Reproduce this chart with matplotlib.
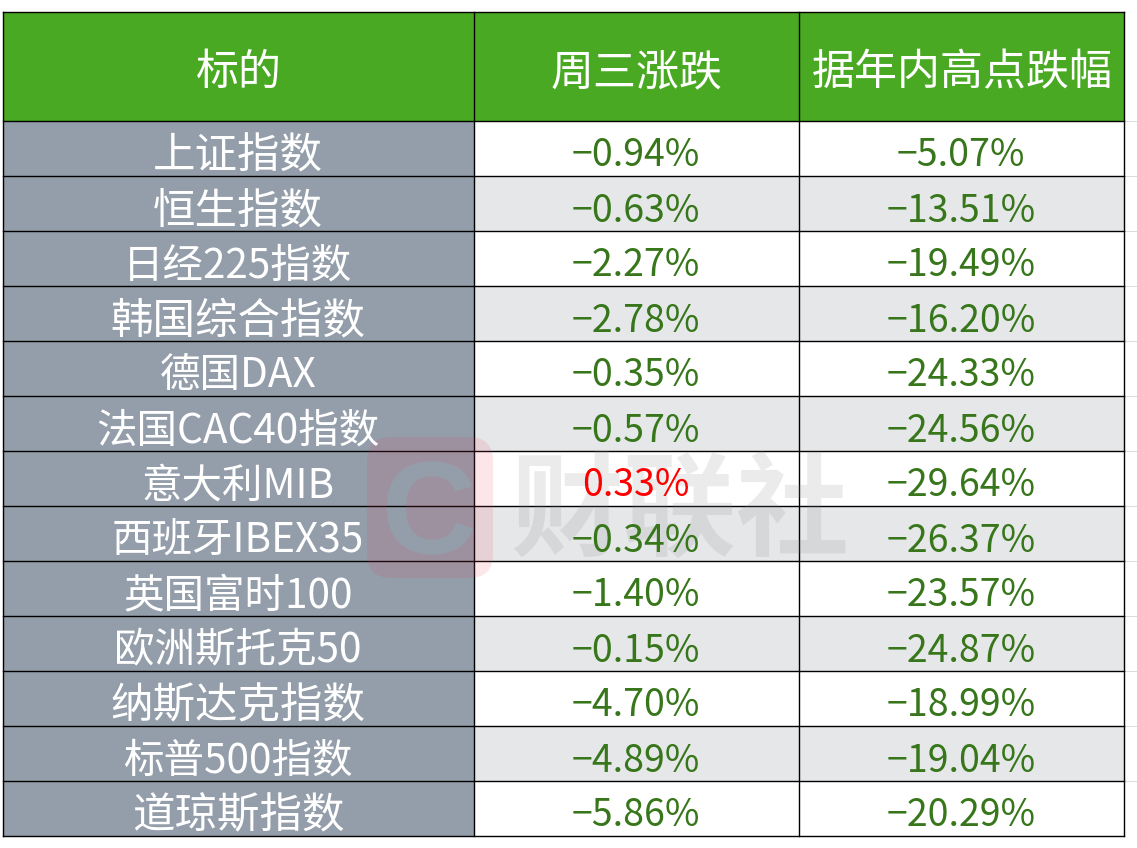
import matplotlib
matplotlib.use('Agg')
import matplotlib.pyplot as plt
from matplotlib.patches import FancyBboxPatch, PathPatch, Rectangle
from matplotlib.path import Path
from matplotlib.textpath import TextPath
from matplotlib.font_manager import FontProperties
from matplotlib.transforms import Affine2D

plt.rcParams['font.family'] = ['Noto Sans CJK SC', 'DejaVu Sans']

# данные таблицы
headers = ['标的', '周三涨跌', '据年内高点跌幅']
names = ['上证指数', '恒生指数', '日经225指数', '韩国综合指数', '德国DAX', '法国CAC40指数',
         '意大利MIB', '西班牙IBEX35', '英国富时100', '欧洲斯托克50', '纳斯达克指数',
         '标普500指数', '道琼斯指数']
wed_change = ['−0.94%', '−0.63%', '−2.27%', '−2.78%', '−0.35%', '−0.57%', '0.33%',
              '−0.34%', '−1.40%', '−0.15%', '−4.70%', '−4.89%', '−5.86%']
from_high = ['−5.07%', '−13.51%', '−19.49%', '−16.20%', '−24.33%', '−24.56%', '−29.64%',
             '−26.37%', '−23.57%', '−24.87%', '−18.99%', '−19.04%', '−20.29%']

GREEN = '#4aa923'
SLATE = '#949eaa'
STRIPE = '#e6e7e9'
TEXT_GREEN = '#37761a'

col_x = [3.5, 474.5, 799.5, 1124.5]
top = 12.5
header_bottom = 121.5
row_h = 55.0
px = 72 / 100  # px -> pt при dpi=100

fig = plt.figure(figsize=(11.37, 8.48), dpi=100)
ax = fig.add_axes([0, 0, 1, 1])
ax.set_xlim(0, 1137)
ax.set_ylim(848, 0)
ax.axis('off')

# заливка шапки и строк
for i in range(3):
    ax.add_patch(Rectangle((col_x[i], top), col_x[i + 1] - col_x[i], header_bottom - top,
                           fc=GREEN, ec='none', zorder=1))
    cx = (col_x[i] + col_x[i + 1]) / 2
    ax.text(cx, (top + header_bottom) / 2 + 6, headers[i], color='white', fontsize=43 * px,
            ha='center', va='center', zorder=5)

for r, name in enumerate(names):
    y = header_bottom + r * row_h
    ax.add_patch(Rectangle((col_x[0], y), col_x[1] - col_x[0], row_h, fc=SLATE, ec='none', zorder=1))
    if r % 2 == 1:
        ax.add_patch(Rectangle((col_x[1], y), col_x[3] - col_x[1], row_h, fc=STRIPE, ec='none', zorder=1))
    ymid = y + row_h / 2 + 7
    # латиница и цифры в оригинале узкие, поэтому такие строки чуть мельче
    name_size = 40.5 if any(ch.isascii() for ch in name) else 42.5
    ax.text((col_x[0] + col_x[1]) / 2 - 1, ymid, name, color='white', fontsize=name_size * px,
            ha='center', va='center', zorder=5)
    wc = wed_change[r]
    ax.text((col_x[1] + col_x[2]) / 2 - 1, ymid, wc, color='#ff0000' if wc[0] != '−' else TEXT_GREEN,
            fontsize=37.5 * px, ha='center', va='center', zorder=5)
    ax.text((col_x[2] + col_x[3]) / 2 - 1, ymid, from_high[r], color=TEXT_GREEN,
            fontsize=37.5 * px, ha='center', va='center', zorder=5)

# линии сетки
bottom = header_bottom + len(names) * row_h
for x in col_x:
    ax.plot([x, x], [top, bottom], color='black', lw=1.4 * px, zorder=3,
            solid_capstyle='projecting', snap=False)
for y in [top, header_bottom] + [header_bottom + (r + 1) * row_h for r in range(len(names))]:
    ax.plot([col_x[0], col_x[3]], [y, y], color='black', lw=1.4 * px, zorder=3,
            solid_capstyle='projecting', snap=False)
    if y != top and y != bottom:
        ax.plot([col_x[3] + 1, 1137], [y, y], color='#dcdcdc', lw=1.0 * px, zorder=1, snap=False)

# водяной знак: розовый квадрат с вырезанной буквой C
box = FancyBboxPatch((380, 450), 100, 115, boxstyle='round,pad=13,rounding_size=24')
box_poly = box.get_path().to_polygons(closed_only=True)[0][::-1]
fp = FontProperties(family='Liberation Sans', weight='bold')
c_path = TextPath((0, 0), 'C', size=132, prop=fp)
ext = c_path.get_extents()
c_path = c_path.transformed(Affine2D().translate(-ext.x0 - ext.width / 2, -ext.y0 - ext.height / 2)
                            .scale(1, -1).translate(430, 508))
mark = Path.make_compound_path(Path(box_poly, closed=True), c_path)
ax.add_patch(PathPatch(mark, fc='#e8415a', ec='none', alpha=0.13, zorder=4))
ax.text(680, 514, '财联社', color='#888888', alpha=0.16, fontsize=113 * px, fontweight='bold',
        ha='center', va='center', zorder=4)

fig.savefig('out.png', dpi=100)
